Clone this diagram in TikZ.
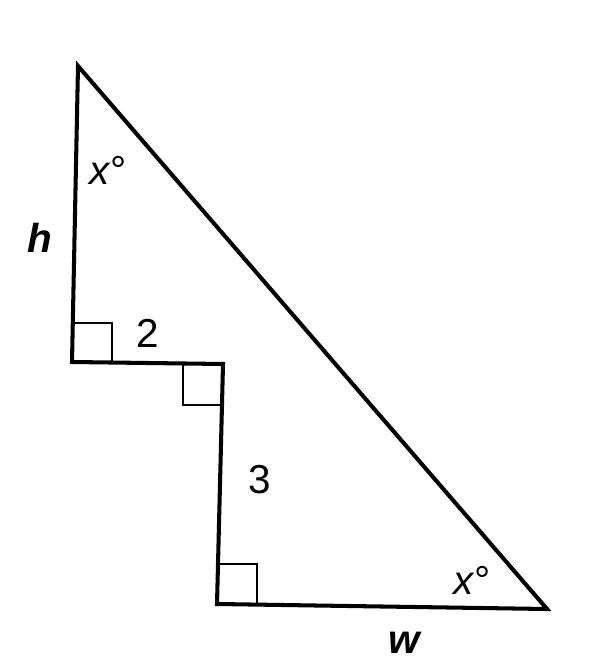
\documentclass[tikz,border=0pt]{standalone}
\usepackage{fontspec}
\setmainfont{Liberation Sans}
\tikzset{side/.style={line width=2.3pt, line join=miter},
	rightangle/.style={line width=1.6pt},
	lbl/.style={font=\fontsize{23}{27}\selectfont, inner sep=0pt}}

\begin{document}
\begin{tikzpicture}[x=0.02cm,y=-0.02cm]
	\useasboundingbox (0,0) rectangle (606,665);
	
	\coordinate (top) at (78,66);
	\coordinate (corner) at (72,362);
	\coordinate (step) at (223,364);
	\coordinate (foot) at (217,604);
	\coordinate (tip) at (547,609);
	
	\draw[side] (top) -- (corner) -- (step) -- (foot) -- (tip) -- cycle;
	
	% right angle marks
	\draw[rightangle] (72,323) -- (112,323) -- (112,362);
	\draw[rightangle] (183,364) -- (183,405) -- (222,405);
	\draw[rightangle] (217,564) -- (257,564) -- (257,604);
	
	\node[lbl] (angtop) at (108,170) {\textit{x}°};
	\node[lbl] (angtip) at (472,580) {\textit{x}°};
	\node[lbl] (h) at (40,238) {\textbf{\textit{h}}};
	\node[lbl] (w) at (405,643) {\textbf{\textit{w}}};
	\node[lbl] (two) at (148,333) {2};
	\node[lbl] (three) at (260,480) {3};
\end{tikzpicture}
\end{document}
